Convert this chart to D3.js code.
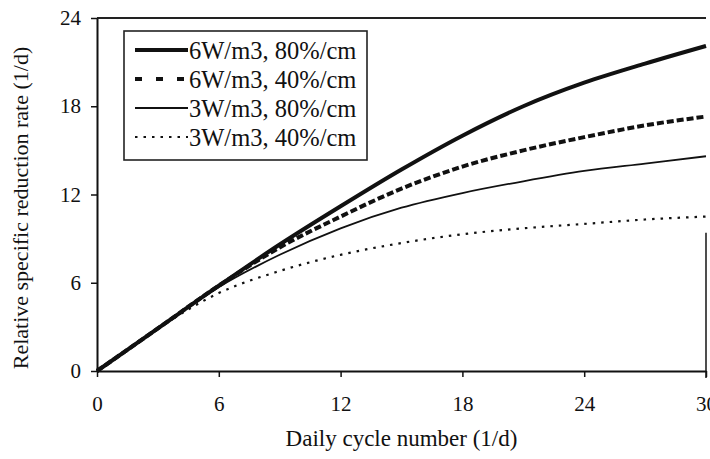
<!DOCTYPE html>
<html>
<head>
<meta charset="utf-8">
<script src="https://cdn.jsdelivr.net/npm/d3@7"></script>
<style>
  body { margin: 0; background: #fff; }
  svg text { font-family: "Liberation Serif", "Times New Roman", serif; fill: #111; }
  .axis path, .axis line { stroke: #111; }
</style>
</head>
<body>
<div id="chart"></div>
<script>
// daily cycle number (1/d)
const cycles = [0, 3, 6, 9, 12, 15, 18, 21, 24, 27, 30];

// relative specific reduction rate (1/d)
const w6p80 = [0, 2.9, 5.8, 8.6, 11.2, 13.7, 16.0, 18.0, 19.6, 20.9, 22.1];
const w6p40 = [0, 2.9, 5.8, 8.4, 10.5, 12.4, 13.9, 15.0, 15.9, 16.7, 17.3];
const w3p80 = [0, 2.9, 5.7, 7.9, 9.7, 11.1, 12.1, 12.9, 13.6, 14.1, 14.6];
const w3p40 = [0, 2.9, 5.3, 6.8, 7.9, 8.7, 9.3, 9.7, 10.0, 10.3, 10.5];

const seriesNames = ["6W/m3, 80%/cm", "6W/m3, 40%/cm", "3W/m3, 80%/cm", "3W/m3, 40%/cm"];
const xTicks = [0, 6, 12, 18, 24, 30];
const yTicks = [0, 6, 12, 18, 24];

// line styles per series
const styles = [
    {width: 4, dash: null, legendDash: null},
    {width: 4, dash: "7,3", legendDash: "7,14"},
    {width: 1.8, dash: null, legendDash: null},
    {width: 2.2, dash: "2.5,6", legendDash: "2.5,6"}
];

const series = [w6p80, w6p40, w3p80, w3p40].map((vals, i) => ({
    name: seriesNames[i],
    style: styles[i],
    values: cycles.map((c, j) => ({x: c, y: vals[j]}))
}));

const W = 710, H = 459;
const margin = {top: 18, right: 4, bottom: 88, left: 97};

const svg = d3.select("#chart").append("svg")
    .attr("width", W)
    .attr("height", H);

const x = d3.scaleLinear()
    .domain([0, 30])
    .range([margin.left, W - margin.right]);

const y = d3.scaleLinear()
    .domain([0, 24])
    .range([H - margin.bottom, margin.top]);

// frame: top line and the partial right edge
svg.append("line")
    .attr("x1", x(0)).attr("x2", x(30))
    .attr("y1", y(24)).attr("y2", y(24))
    .attr("stroke", "#222").attr("stroke-width", 2);

svg.append("line")
    .attr("x1", x(30)).attr("x2", x(30))
    .attr("y1", y(9.4)).attr("y2", y(0) + 7)
    .attr("stroke", "#222").attr("stroke-width", 1.6);

// curves
const line = d3.line()
    .x(d => x(d.x))
    .y(d => y(d.y))
    .curve(d3.curveMonotoneX);

svg.selectAll(".curve")
    .data(series)
    .enter().append("path")
    .attr("class", "curve")
    .attr("fill", "none")
    .attr("stroke", "#111")
    .attr("stroke-width", d => d.style.width)
    .attr("stroke-dasharray", d => d.style.dash)
    .attr("d", d => line(d.values));

// axes
const xAxis = svg.append("g")
    .attr("class", "axis")
    .attr("transform", "translate(0," + y(0) + ")")
    .call(d3.axisBottom(x).tickValues(xTicks).tickSize(6).tickSizeOuter(0));
xAxis.select(".domain").attr("stroke-width", 2);
xAxis.selectAll(".tick line").attr("stroke-width", 1.5);
xAxis.selectAll("text").attr("font-size", 21).attr("y", 25);

const yAxis = svg.append("g")
    .attr("class", "axis")
    .attr("transform", "translate(" + x(0) + ",0)")
    .call(d3.axisLeft(y).tickValues(yTicks).tickSize(6).tickSizeOuter(0));
yAxis.select(".domain").attr("stroke-width", 2);
yAxis.selectAll(".tick line").attr("stroke-width", 1.5);
yAxis.selectAll("text").attr("font-size", 21).attr("x", -16);

// axis titles
svg.append("text")
    .attr("x", (x(0) + x(30)) / 2)
    .attr("y", 446)
    .attr("text-anchor", "middle")
    .attr("font-size", 23)
    .text("Daily cycle number (1/d)");

svg.append("text")
    .attr("transform", "translate(28," + 208 + ") rotate(-90)")
    .attr("text-anchor", "middle")
    .attr("font-size", 22)
    .text("Relative specific reduction rate (1/d)");

// legend
const legend = svg.append("g").attr("transform", "translate(124,31)");

legend.append("rect")
    .attr("width", 243)
    .attr("height", 129)
    .attr("fill", "#fff")
    .attr("stroke", "#222")
    .attr("stroke-width", 1.6);

const rows = legend.selectAll(".row")
    .data(series)
    .enter().append("g")
    .attr("transform", (d, i) => "translate(0," + (19 + i * 29) + ")");

rows.append("line")
    .attr("x1", 11).attr("x2", 64)
    .attr("stroke", "#111")
    .attr("stroke-width", d => d.style.width)
    .attr("stroke-dasharray", d => d.style.legendDash);

rows.append("text")
    .attr("x", 65)
    .attr("dy", "0.35em")
    .attr("font-size", 24.5)
    .text(d => d.name);
</script>
</body>
</html>
